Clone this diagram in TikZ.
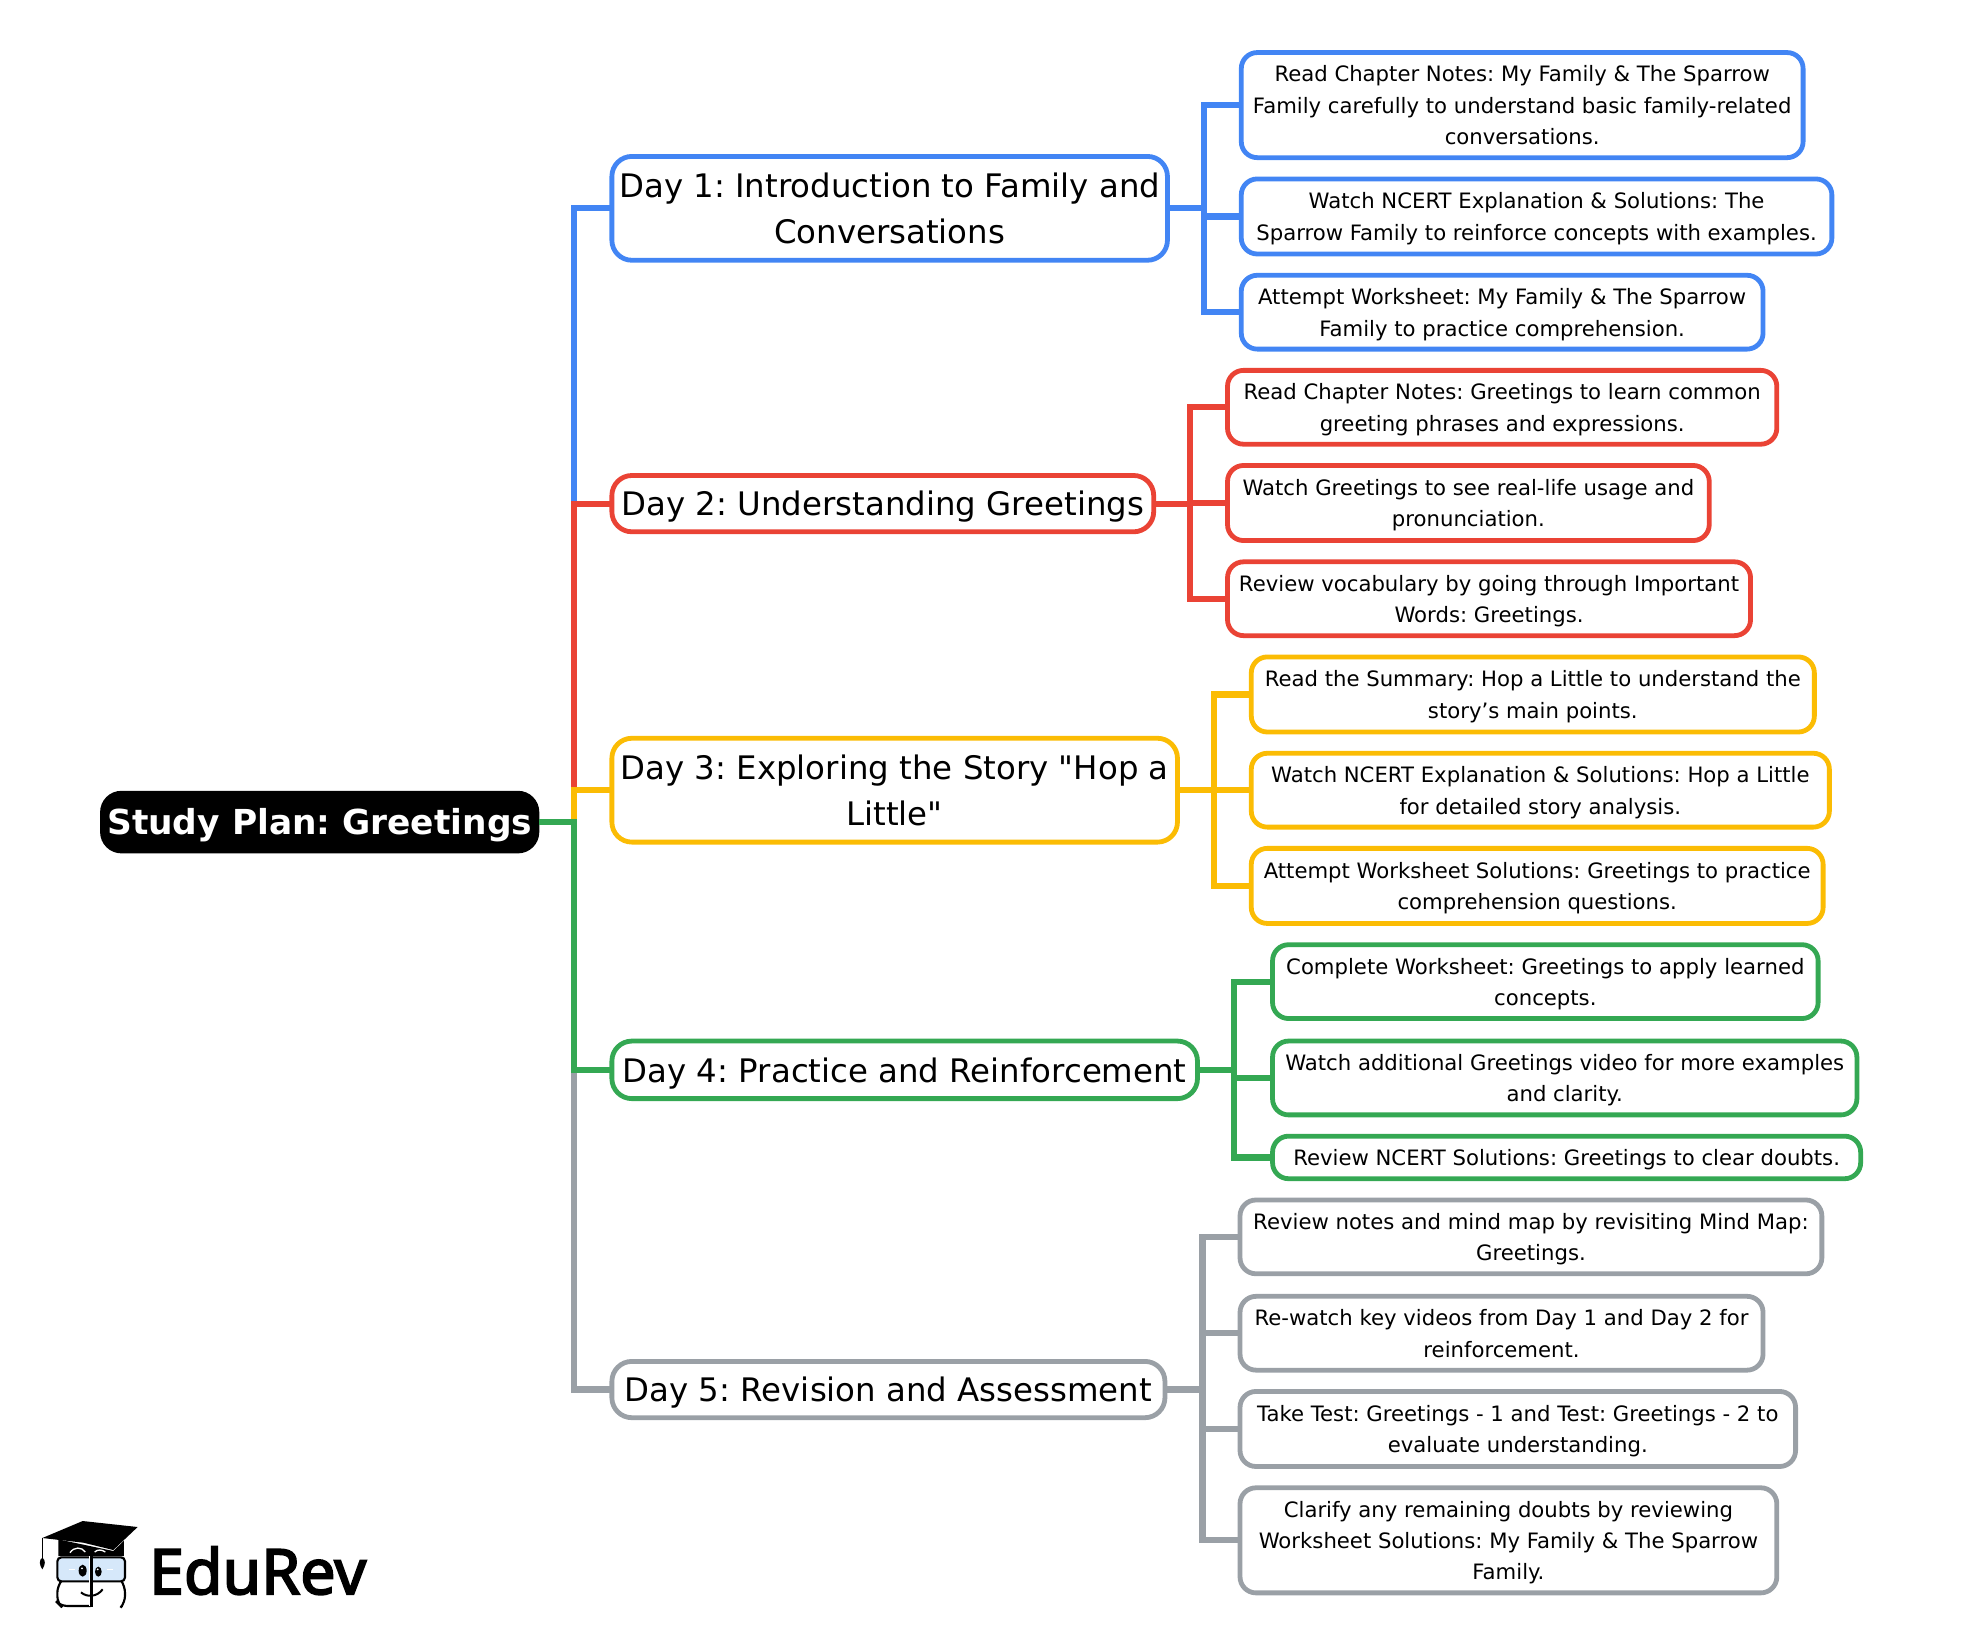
\documentclass[tikz,border=0pt]{standalone}
\usepackage{fontspec}
\setmainfont[Ligatures=TeXOff]{DejaVu Sans}
\newfontfamily\logofont[FakeBold=3]{Noto Sans}
\frenchspacing
\definecolor{cblue}{HTML}{4285F4}
\definecolor{cred}{HTML}{EA4335}
\definecolor{cyellow}{HTML}{FBBC04}
\definecolor{cgreen}{HTML}{34A853}
\definecolor{cgray}{HTML}{9AA0A6}
\definecolor{glass}{HTML}{D6E8FA}
\tikzset{
  mapbase/.style={draw,rounded corners=#1,fill=white,align=center,inner sep=0pt,outer sep=0pt,line width=3.6pt,text=black},
  rootbox/.style={fill=black,rounded corners=16pt,align=center,inner sep=0pt,outer sep=0pt,text=white,font=\fontsize{25.8}{34.8}\selectfont\bfseries},
  daybox/.style={mapbase=15pt,draw=#1,font=\fontsize{24.3}{34.8}\selectfont},
  leafbox/.style={mapbase=12pt,draw=#1,font=\fontsize{15.9}{23.5}\selectfont},
  conn/.style={draw=#1,line width=4.6pt,miter limit=10}
}
\newcommand{\mapbox}[7]{%
  \pgfmathsetmacro{\cx}{(#3+#5)/2}\pgfmathsetmacro{\cy}{(#4+#6)/2}%
  \pgfmathsetmacro{\bw}{(#5-#3)*0.9385}\pgfmathsetmacro{\bh}{(#6-#4)*0.9385}%
  \node[#2,minimum width=\bw pt,minimum height=\bh pt] (#1) at (\cx,\cy) {\rule{0pt}{\dimexpr\ht\strutbox+0.18em\relax}#7\strut};}
\begin{document}
\begin{tikzpicture}[x=0.9385pt,y=-0.9385pt]
\useasboundingbox (0,0) rectangle (1568,1314.6);
% nodes
\mapbox{root}{rootbox}{80}{632}{431}{682}{Study Plan: Greetings}
\mapbox{d1}{daybox=cblue}{489}{125}{933}{208}{Day 1: Introduction to Family and\\Conversations}
\mapbox{d2}{daybox=cred}{489}{380}{922}{425}{Day 2: Understanding Greetings}
\mapbox{d3}{daybox=cyellow}{489}{590}{941}{673}{Day 3: Exploring the Story "Hop a\\Little"}
\mapbox{d4}{daybox=cgreen}{489}{832}{957}{878}{Day 4: Practice and Reinforcement}
\mapbox{d5}{daybox=cgray}{489}{1088}{931}{1133}{Day 5: Revision and Assessment}
\mapbox{a1}{leafbox=cblue}{992}{42}{1441}{126}{Read Chapter Notes: My Family \& The Sparrow\\Family carefully to understand basic family-related\\conversations.}
\mapbox{a2}{leafbox=cblue}{992}{143}{1464}{203}{Watch NCERT Explanation \& Solutions: The\\Sparrow Family to reinforce concepts with examples.}
\mapbox{a3}{leafbox=cblue}{992}{220}{1409}{279}{Attempt Worksheet: My Family \& The Sparrow\\Family to practice comprehension.}
\mapbox{b1}{leafbox=cred}{981}{296}{1420}{355}{Read Chapter Notes: Greetings to learn common\\greeting phrases and expressions.}
\mapbox{b2}{leafbox=cred}{981}{372}{1366}{432}{Watch Greetings to see real-life usage and\\pronunciation.}
\mapbox{b3}{leafbox=cred}{981}{449}{1399}{508}{Review vocabulary by going through Important\\Words: Greetings.}
\mapbox{c1}{leafbox=cyellow}{1000}{525}{1450}{585}{Read the Summary: Hop a Little to understand the\\story’s main points.}
\mapbox{c2}{leafbox=cyellow}{1000}{602}{1462}{661}{Watch NCERT Explanation \& Solutions: Hop a Little\\for detailed story analysis.}
\mapbox{c3}{leafbox=cyellow}{1000}{678}{1457}{738}{Attempt Worksheet Solutions: Greetings to practice\\comprehension questions.}
\mapbox{e1}{leafbox=cgreen}{1017}{755}{1453}{814}{Complete Worksheet: Greetings to apply learned\\concepts.}
\mapbox{e2}{leafbox=cgreen}{1017}{832}{1484}{891}{Watch additional Greetings video for more examples\\and clarity.}
\mapbox{e3}{leafbox=cgreen}{1017}{908}{1487}{942}{Review NCERT Solutions: Greetings to clear doubts.}
\mapbox{f1}{leafbox=cgray}{991}{959}{1456}{1018}{Review notes and mind map by revisiting Mind Map:\\Greetings.}
\mapbox{f2}{leafbox=cgray}{991}{1036}{1409}{1095}{Re-watch key videos from Day 1 and Day 2 for\\reinforcement.}
\mapbox{f3}{leafbox=cgray}{991}{1112}{1435}{1172}{Take Test: Greetings - 1 and Test: Greetings - 2 to\\evaluate understanding.}
\mapbox{f4}{leafbox=cgray}{991}{1189}{1420}{1273}{Clarify any remaining doubts by reviewing\\Worksheet Solutions: My Family \& The Sparrow\\Family.}
% spine positions
\coordinate (sp) at (459,0);
\coordinate (spa) at (962,0);
\coordinate (spb) at (951,0);
\coordinate (spc) at (970,0);
\coordinate (spe) at (986,0);
\coordinate (spf) at (961,0);
% main connectors
\draw[conn=cgray] (root.east) -- (sp |- root.east) |- (d5.west);
\draw[conn=cblue] (root.east) -- (sp |- root.east) |- (d1.west);
\draw[conn=cred] (root.east) -- (sp |- root.east) |- (d2.west);
\draw[conn=cyellow] (root.east) -- (sp |- root.east) |- (d3.west);
\draw[conn=cgreen] (root.east) -- (sp |- root.east) |- (d4.west);
% branch connectors
\foreach \l in {a1,a2,a3} \draw[conn=cblue] (d1.east) -- (spa |- d1.east) |- (\l.west);
\foreach \l in {b1,b2,b3} \draw[conn=cred] (d2.east) -- (spb |- d2.east) |- (\l.west);
\foreach \l in {c1,c2,c3} \draw[conn=cyellow] (d3.east) -- (spc |- d3.east) |- (\l.west);
\foreach \l in {e1,e2,e3} \draw[conn=cgreen] (d4.east) -- (spe |- d4.east) |- (\l.west);
\foreach \l in {f1,f2,f3,f4} \draw[conn=cgray] (d5.east) -- (spf |- d5.east) |- (\l.west);
% logo
\begin{scope}[shift={(0,1182.8)},x=0.25pt,y=-0.25pt]
  \fill[black] (175,178) -- (175,228) -- (372,228) -- (372,182) -- (340,213) -- cycle;
  \fill[black] (127,174) -- (248,123) -- (413,141) -- (340,210) -- (250,188) -- cycle;
  \draw[black,line width=1.2pt] (127,174) -- (127,235);
  \fill[black] (127,233) .. controls (116,240) and (118,255) .. (127,268) .. controls (136,255) and (138,240) .. (127,233) -- cycle;
  \draw[white,line width=1pt] (210,218) .. controls (222,200) and (245,200) .. (256,216);
  \draw[white,line width=1pt] (284,216) .. controls (292,208) and (305,208) .. (316,216);
  \draw[black,line width=1.6pt,fill=glass,rounded corners=3pt] (172,232) rectangle (375,304);
  \draw[black,line width=1.6pt,rounded corners=5pt] (180,308) -- (172,318) -- (172,368) -- (182,378) -- (272,378);
  \draw[black,line width=1.6pt,rounded corners=5pt] (368,308) -- (375,318) -- (375,368) -- (366,378);
  \draw[black,line width=1.8pt] (275,228) -- (275,380);
  \draw[white,line width=0.6pt] (269,228) -- (269,378);
  \fill[black] (248,272) ellipse [x radius=12,y radius=18];
  \fill[black] (295,275) ellipse [x radius=10,y radius=15];
  \fill[white] (246,265) circle [radius=3];
  \fill[white] (293,268) circle [radius=3];
  \draw[white,line width=0.8pt] (208,268) -- (224,268);
  \draw[white,line width=0.8pt] (322,268) -- (338,268);
  \draw[black,line width=1.5pt] (243,337) .. controls (260,352) and (290,352) .. (308,328);
\end{scope}
\node[anchor=base west,inner sep=0pt,text=black,font=\logofont\fontsize{47}{47}\selectfont] (logo) at (119,1274) {EduRev};
\end{tikzpicture}
\end{document}
